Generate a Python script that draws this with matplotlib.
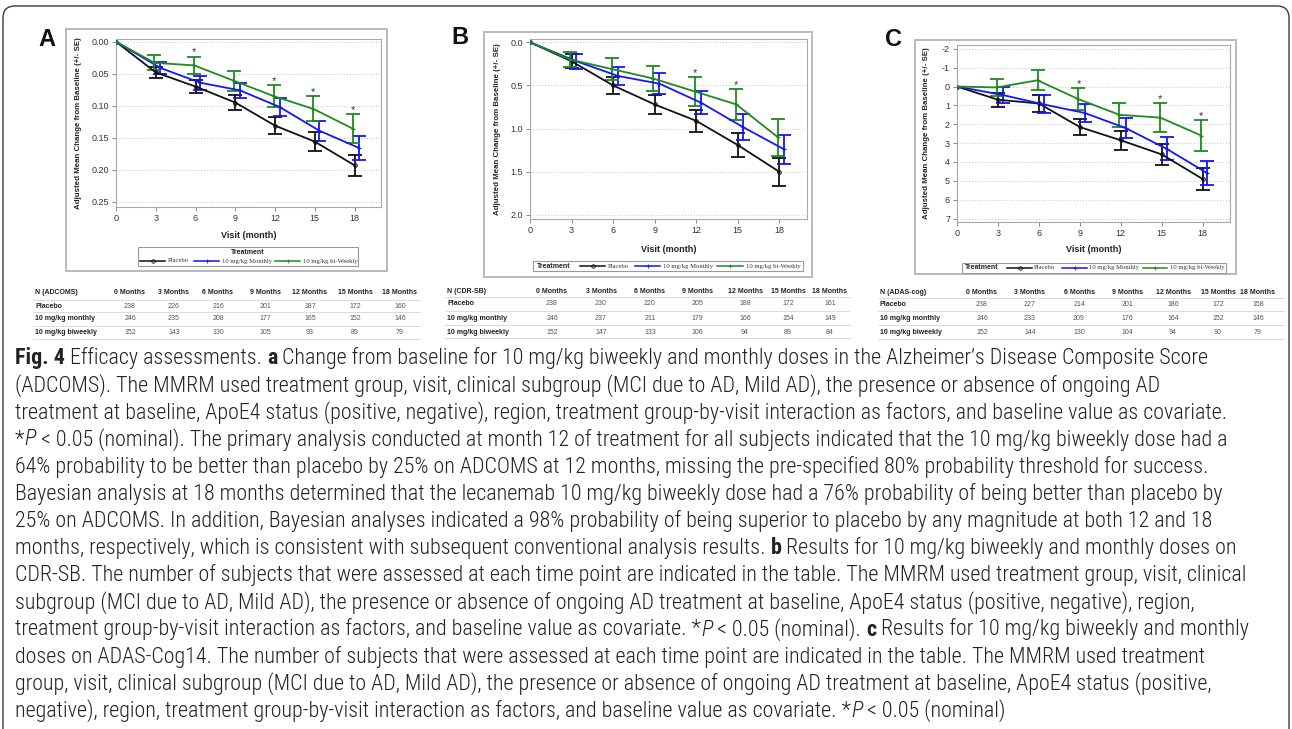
import matplotlib
matplotlib.use('Agg')
import matplotlib.pyplot as plt
from matplotlib.patches import Rectangle, FancyBboxPatch
from matplotlib.lines import Line2D
from matplotlib import font_manager

W, H = 1292, 729

# ---------------- data ----------------
months = [0, 3, 6, 9, 12, 15, 18]

adcoms_placebo = [0, 0.048, 0.070, 0.095, 0.131, 0.156, 0.193]
adcoms_placebo_se = [0, 0.0085, 0.010, 0.012, 0.013, 0.0145, 0.0165]
adcoms_monthly = [0, 0.041, 0.064, 0.076, 0.102, 0.139, 0.166]
adcoms_monthly_se = [0, 0.010, 0.011, 0.012, 0.0145, 0.0155, 0.018]
adcoms_biweekly = [0, 0.033, 0.037, 0.061, 0.085, 0.105, 0.136]
adcoms_biweekly_se = [0, 0.0115, 0.0135, 0.0155, 0.0175, 0.0195, 0.0225]
adcoms_sig = [6, 12, 15, 18]

cdrsb_placebo = [0, 0.22, 0.50, 0.72, 0.91, 1.19, 1.50]
cdrsb_placebo_se = [0, 0.08, 0.095, 0.11, 0.125, 0.14, 0.16]
cdrsb_monthly = [0, 0.22, 0.39, 0.48, 0.70, 0.98, 1.24]
cdrsb_monthly_se = [0, 0.085, 0.105, 0.12, 0.135, 0.15, 0.17]
cdrsb_biweekly = [0, 0.20, 0.31, 0.42, 0.57, 0.72, 1.10]
cdrsb_biweekly_se = [0, 0.09, 0.125, 0.145, 0.165, 0.175, 0.215]
cdrsb_sig = [12, 15]

adas_placebo = [0, 0.7, 0.9, 2.15, 2.85, 3.6, 4.9]
adas_placebo_se = [0, 0.38, 0.45, 0.43, 0.5, 0.55, 0.6]
adas_monthly = [0, 0.45, 0.95, 1.4, 2.2, 3.3, 4.6]
adas_monthly_se = [0, 0.4, 0.48, 0.48, 0.52, 0.6, 0.63]
adas_biweekly = [0, 0.05, -0.33, 0.67, 1.5, 1.65, 2.6]
adas_biweekly_se = [0, 0.43, 0.53, 0.58, 0.65, 0.75, 0.8]
adas_sig = [9, 15, 18]

table_cols = ['0 Months', '3 Months', '6 Months', '9 Months', '12 Months', '15 Months', '18 Months']
row_names = ['Placebo', '10 mg/kg monthly', '10 mg/kg biweekly']
n_adcoms_placebo = [238, 226, 216, 201, 187, 172, 160]
n_adcoms_monthly = [246, 235, 208, 177, 165, 152, 146]
n_adcoms_biweekly = [152, 143, 130, 105, 93, 89, 79]
n_cdrsb_placebo = [238, 230, 220, 205, 188, 172, 161]
n_cdrsb_monthly = [246, 237, 211, 179, 166, 154, 149]
n_cdrsb_biweekly = [152, 147, 133, 106, 94, 89, 84]
n_adas_placebo = [238, 227, 214, 201, 186, 172, 158]
n_adas_monthly = [246, 233, 209, 176, 164, 152, 146]
n_adas_biweekly = [152, 144, 130, 104, 94, 90, 79]

legend_labels = ['Placebo', '10 mg/kg Monthly', '10 mg/kg bi-Weekly']

BLACK, BLUE, GREEN = '#111111', '#1414ff', '#1f8a1f'


def pick_font(cands):
    for c in cands:
        try:
            font_manager.findfont(font_manager.FontProperties(family=c), fallback_to_default=False)
            return c
        except Exception:
            pass
    return 'DejaVu Sans'


SANS = pick_font(['Liberation Sans', 'DejaVu Sans'])
SERIF = pick_font(['Liberation Serif', 'DejaVu Serif'])
NARROW = pick_font(['Liberation Sans Narrow', 'Roboto Condensed', 'Liberation Sans'])
plt.rcParams['font.family'] = [SANS, 'DejaVu Sans']

fig = plt.figure(figsize=(W / 100, H / 100), dpi=100)
fig.patch.set_facecolor('white')


def fx(x):
    return x / W


def fy(y):
    return 1 - y / H


def add_axes_px(x0, y0, x1, y1):
    return fig.add_axes([fx(x0), fy(y1), (x1 - x0) / W, (y1 - y0) / H])


def hline(x0, x1, y, color='#d6d6d6', lw=0.6):
    fig.add_artist(Line2D([fx(x0), fx(x1)], [fy(y), fy(y)], transform=fig.transFigure, color=color, lw=lw))


def frame(x0, y0, x1, y1, color='#b4b4b4', lw=1.3):
    fig.add_artist(Rectangle((fx(x0), fy(y1)), (x1 - x0) / W, (y1 - y0) / H, transform=fig.transFigure,
                             fill=False, edgecolor=color, lw=lw))


# outer rounded border
border = FancyBboxPatch((0.03, -0.2), 12.86, 7.43, boxstyle='round,pad=0,rounding_size=0.12',
                        transform=fig.dpi_scale_trans, fill=False, edgecolor='#3a3a3a', lw=1.0)
fig.add_artist(border)


def draw_panel(ax, series, sig, ylim, yticks, fmt, ylab_x, xlab_y):
    for vals, se, color, marker, off in series:
        xs = [m + off if m > 0 else m for m in months]
        ax.errorbar(xs[1:], vals[1:], yerr=se[1:], fmt='none', ecolor=color, elinewidth=1.3,
                    capsize=5, capthick=1.3, zorder=3)
        ax.plot(xs, vals, color=color, lw=1.3, marker=marker, ms=2.5, mew=0.8,
                mfc='none' if marker == 'o' else color, zorder=4)
    vals, se, color, marker, off = series[2]
    for m in sig:
        i = months.index(m)
        ax.annotate('*', xy=(m + off, vals[i] - se[i]), xytext=(0, 3), textcoords='offset points',
                    ha='center', va='center', fontsize=8, color='#333333')
    ax.set_xlim(0, 20)
    ax.set_ylim(*ylim)
    ax.set_xticks(months)
    ax.set_yticks(yticks)
    ax.set_yticklabels([fmt.format(v) for v in yticks])
    ax.grid(axis='y', ls=(0, (1, 2)), color='#c4c4c4', lw=0.7)
    ax.set_axisbelow(True)
    ax.tick_params(labelsize=6.5, colors='#777777', labelcolor='#333333', length=3, width=0.6, pad=2)
    for s in ax.spines.values():
        s.set_color('#a8a8a8')
        s.set_linewidth(0.8)
    ax.set_xlabel('Visit (month)', fontsize=6.5, fontweight='bold', color='#222222')
    ax.set_ylabel('Adjusted Mean Change from Baseline (+/- SE)', fontsize=5.7, fontweight='bold', color='#222222')
    ax.xaxis.label.set_va('center')
    ax.yaxis.label.set_va('center')
    ax.xaxis.set_label_coords(0.5, xlab_y)
    ax.yaxis.set_label_coords(ylab_x, 0.5)


# ---------------- panel A ----------------
frame(66, 29, 387, 271)
axA = add_axes_px(116, 39, 381, 207)
draw_panel(axA, [(adcoms_placebo, adcoms_placebo_se, BLACK, 'o', 0.0),
                 (adcoms_monthly, adcoms_monthly_se, BLUE, '+', 0.35),
                 (adcoms_biweekly, adcoms_biweekly_se, GREEN, '+', -0.1)],
           adcoms_sig, (0.2581, -0.0042), [0, 0.05, 0.10, 0.15, 0.20, 0.25], '{:.2f}', -0.143, -0.167)

# ---------------- panel B ----------------
frame(484, 32, 812, 277)
axB = add_axes_px(530, 39, 807, 219)
draw_panel(axB, [(cdrsb_placebo, cdrsb_placebo_se, BLACK, 'o', 0.0),
                 (cdrsb_monthly, cdrsb_monthly_se, BLUE, '+', 0.35),
                 (cdrsb_biweekly, cdrsb_biweekly_se, GREEN, '+', -0.1)],
           cdrsb_sig, (2.047, -0.038), [0, 0.5, 1.0, 1.5, 2.0], '{:.1f}', -0.119, -0.167)

# ---------------- panel C ----------------
frame(915, 40, 1236, 274)
axC = add_axes_px(957, 45, 1230, 222)
draw_panel(axC, [(adas_placebo, adas_placebo_se, BLACK, 'o', 0.0),
                 (adas_monthly, adas_monthly_se, BLUE, '+', 0.35),
                 (adas_biweekly, adas_biweekly_se, GREEN, '+', -0.1)],
           adas_sig, (7.18, -2.2), list(range(-2, 8)), '{:d}', -0.110, -0.158)

# panel letters
for letter, x, y in [('A', 47, 39), ('B', 460, 38), ('C', 894, 39)]:
    fig.text(fx(x), fy(y), letter, fontsize=17, fontweight='bold', ha='center', va='center', color='#111111')


# ---------------- legends ----------------
def draw_legend(x0, y0, x1, y1, title_xy, title_ha, entry_y, entries):
    fig.add_artist(Rectangle((fx(x0), fy(y1)), (x1 - x0) / W, (y1 - y0) / H, transform=fig.transFigure,
                             fill=True, facecolor='white', edgecolor='#9a9a9a', lw=0.8))
    fig.text(fx(title_xy[0]), fy(title_xy[1]), 'Treatment', fontsize=5, fontweight='bold',
             ha=title_ha, va='center', color='#222222')
    styles = [(BLACK, 'o'), (BLUE, '+'), (GREEN, '+')]
    for (lx0, lx1, tx), (color, marker), label in zip(entries, styles, legend_labels):
        fig.add_artist(Line2D([fx(lx0), fx(lx1)], [fy(entry_y), fy(entry_y)], transform=fig.transFigure,
                              color=color, lw=1.1))
        fig.add_artist(Line2D([fx((lx0 + lx1) / 2)], [fy(entry_y)], transform=fig.transFigure,
                              color=color, marker=marker, ms=2.5, mew=0.6, mfc='none'))
        fig.text(fx(tx), fy(entry_y), label, fontsize=4.8, family=SERIF, ha='left', va='center', color='#333333')


draw_legend(138, 247, 358, 266, (248, 252), 'center', 261,
            [(140, 165, 168), (194, 219, 222), (275, 300, 303)])
draw_legend(533, 261, 803, 271, (537, 266), 'left', 266,
            [(580, 605, 608), (635, 660, 663), (717, 743, 746)])
draw_legend(962, 263, 1226, 273, (965, 268), 'left', 268,
            [(1007, 1032, 1034), (1062, 1087, 1089), (1143, 1167, 1170)])


# ---------------- tables ----------------
def draw_table(title, label_x, col_xs, ys, line_x0, line_x1, line_ys, rows):
    fs = 5
    fig.text(fx(label_x), fy(ys[0]), title, fontsize=fs, fontweight='bold', ha='left', va='center', color='#222222')
    for cx, c in zip(col_xs, table_cols):
        fig.text(fx(cx), fy(ys[0]), c, fontsize=fs, fontweight='bold', ha='center', va='center', color='#222222')
    for y, name, vals in zip(ys[1:], row_names, rows):
        fig.text(fx(label_x), fy(y), name, fontsize=fs, fontweight='bold', ha='left', va='center', color='#222222')
        for cx, v in zip(col_xs, vals):
            fig.text(fx(cx), fy(y), str(v), fontsize=fs, ha='center', va='center', color='#555555')
    for ly in line_ys:
        hline(line_x0, line_x1, ly)


draw_table('N (ADCOMS)', 35, [130, 174, 218, 265, 310, 355, 400], [293, 306, 319, 333], 33, 420,
           [300, 312, 326, 339], [n_adcoms_placebo, n_adcoms_monthly, n_adcoms_biweekly])
draw_table('N (CDR-SB)', 447, [552, 601, 650, 697, 745, 788, 830], [291, 304, 318, 332], 445, 850,
           [297, 311, 325, 338], [n_cdrsb_placebo, n_cdrsb_monthly, n_cdrsb_biweekly])
draw_table('N (ADAS-cog)', 880, [982, 1030, 1079, 1127, 1173, 1218, 1258], [293, 305, 318, 332], 878, 1284,
           [298, 311, 325, 339], [n_adas_placebo, n_adas_monthly, n_adas_biweekly])

# ---------------- caption ----------------
caption_lines = [
    [('Fig. 4', 'b'), (' Efficacy assessments. ', ''), ('a', 'b'),
     (' Change from baseline for 10 mg/kg biweekly and monthly doses in the Alzheimer\u2019s Disease Composite Score', '')],
    [('(ADCOMS). The MMRM used treatment group, visit, clinical subgroup (MCI due to AD, Mild AD), the presence or absence of ongoing AD', '')],
    [('treatment at baseline, ApoE4 status (positive, negative), region, treatment group-by-visit interaction as factors, and baseline value as covariate.', '')],
    [('*', ''), ('P', 'i'), (' < 0.05 (nominal). The primary analysis conducted at month 12 of treatment for all subjects indicated that the 10 mg/kg biweekly dose had a', '')],
    [('64% probability to be better than placebo by 25% on ADCOMS at 12 months, missing the pre-specified 80% probability threshold for success.', '')],
    [('Bayesian analysis at 18 months determined that the lecanemab 10 mg/kg biweekly dose had a 76% probability of being better than placebo by', '')],
    [('25% on ADCOMS. In addition, Bayesian analyses indicated a 98% probability of being superior to placebo by any magnitude at both 12 and 18', '')],
    [('months, respectively, which is consistent with subsequent conventional analysis results. ', ''), ('b', 'b'),
     (' Results for 10 mg/kg biweekly and monthly doses on', '')],
    [('CDR-SB. The number of subjects that were assessed at each time point are indicated in the table. The MMRM used treatment group, visit, clinical', '')],
    [('subgroup (MCI due to AD, Mild AD), the presence or absence of ongoing AD treatment at baseline, ApoE4 status (positive, negative), region,', '')],
    [('treatment group-by-visit interaction as factors, and baseline value as covariate. *', ''), ('P', 'i'),
     (' < 0.05 (nominal). ', ''), ('c', 'b'), (' Results for 10 mg/kg biweekly and monthly', '')],
    [('doses on ADAS-Cog14. The number of subjects that were assessed at each time point are indicated in the table. The MMRM used treatment', '')],
    [('group, visit, clinical subgroup (MCI due to AD, Mild AD), the presence or absence of ongoing AD treatment at baseline, ApoE4 status (positive,', '')],
    [('negative), region, treatment group-by-visit interaction as factors, and baseline value as covariate. *', ''), ('P', 'i'),
     (' < 0.05 (nominal)', '')],
]

renderer = fig.canvas.get_renderer()


def seg_props(style, size):
    return dict(fontsize=size, family=[NARROW, 'DejaVu Sans'],
                fontweight='bold' if 'b' in style else 'light',
                fontstyle='italic' if 'i' in style else 'normal')


def seg_width(txt, style, size):
    p = seg_props(style, size)
    t = fig.text(0, 0, txt + '|', **p)
    w1 = t.get_window_extent(renderer).width
    t.remove()
    t = fig.text(0, 0, '|', **p)
    w2 = t.get_window_extent(renderer).width
    t.remove()
    return w1 - w2


# fit size so that the first caption line spans the same width as in the original
w_ref = sum(seg_width(t, s, 10) for t, s in caption_lines[0])
cap_size = 10 * 1193 / w_ref

for i, line in enumerate(caption_lines):
    x = 15
    y = 358 + i * 27.15
    for txt, style in line:
        fig.text(fx(x), fy(y), txt, ha='left', va='center', color='#222222', **seg_props(style, cap_size))
        x += seg_width(txt, style, cap_size)

fig.savefig('out.png', dpi=100)
